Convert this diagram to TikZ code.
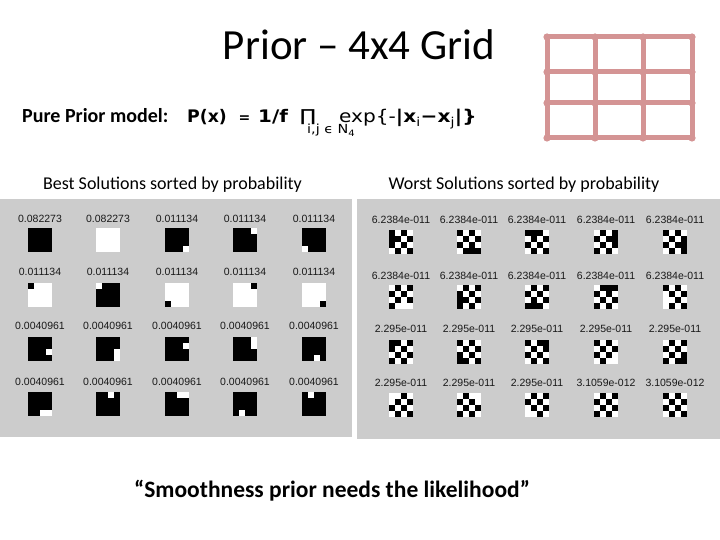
\documentclass[tikz,border=0pt]{standalone}
\usepackage{fontspec}
\setmainfont{Carlito}
\newfontfamily\dv{DejaVu Sans}
\newfontfamily\dvw{DejaVu Sans}[FakeStretch=1.15]
\newfontfamily\dvp{DejaVu Sans}[FakeStretch=1.3]
\newfontfamily\ar{Liberation Sans}
\definecolor{panel}{RGB}{204,204,204}
\definecolor{pinkgrid}{RGB}{212,148,148}
\newcommand\mypat[3]{%
  \def\mycx{#1}\def\mytop{#2}%
  \fill[white] (#1-12,#2) rectangle ++(24,24);
  \foreach \rowlist [count=\r from 0] in {#3} {\expandafter\dorow\rowlist\relax}%
}
\def\dorow#1#2#3#4\relax{%
  \foreach \v [count=\c from 0] in {#1,#2,#3,#4} {\ifnum\v=1 \fill[black] (\mycx-12+6*\c,\mytop+6*\r) rectangle ++(6,6);\fi}}
\begin{document}
\begin{tikzpicture}[x=1pt,y=-1pt,
  lbl/.style={font=\ar\fontsize{10.5}{11}\selectfont, inner sep=0, text=black!90},
  hdr/.style={font=\fontsize{18}{18}\selectfont, inner sep=0, anchor=base},
  gridline/.style={pinkgrid, line width=5, line cap=round}]
\useasboundingbox (0,0) rectangle (720,540);
\fill[white] (0,0) rectangle (720,540);

% title
\node[font=\fontsize{43}{43}\selectfont, inner sep=0, anchor=base] (title) at (359,60) {Prior – 4x4 Grid};

% pink grid
\foreach \gx in {547,595,643,692} {\draw[gridline] (\gx,37) -- (\gx,138);}
\foreach \gy in {37,72,103,138} {\draw[gridline] (547,\gy) -- (692,\gy);}
\foreach \gx in {547,595,643,692} {\foreach \gy in {37,72,103,138} {\fill[pinkgrid] (\gx,\gy) circle (3.6);}}

% model line
\node[font=\bfseries\fontsize{20}{20}\selectfont, inner sep=0, anchor=base west] (pp) at (22,123) {Pure Prior model:};
\node[font=\dv\bfseries\fontsize{17.3}{18}\selectfont, inner sep=0, anchor=base west] (px) at (187,123) {P(x)};
\node[font=\dv\bfseries\fontsize{14}{18}\selectfont, inner sep=0, anchor=base] (eq) at (244.5,123) {=};
\node[font=\dvw\bfseries\fontsize{17.3}{18}\selectfont, inner sep=0, anchor=base west] (onef) at (258,123) {1/f};
\node[font=\dvp\fontsize{16.5}{17}\selectfont, inner sep=0, anchor=south] (prod) at (308,124.5) {∏};
\node[font=\dvw\fontsize{12.5}{13}\selectfont, inner sep=0, anchor=base west] (sub) at (307,134) {i,j ϵ N\textsubscript{4}};
\node[font=\dvw\fontsize{17.5}{18}\selectfont, inner sep=0, anchor=base west] (expr) at (339,123) {exp\{-\textbf{|x}\textsubscript{i}\textbf{−x}\textsubscript{j}\textbf{|\}}};

% headers
\node[hdr] (best) at (172.5,190) {Best Solutions sorted by probability};
\node[hdr] (worst) at (524,190) {Worst Solutions sorted by probability};

% panels
\fill[panel] (0,199) rectangle (352,437);
\fill[panel] (357,199) rectangle (720,439);

% left labels
\foreach \lx/\ly/\t [count=\i] in {
 40/218.5/0.082273, 108/218.5/0.082273, 177/218.5/0.011134, 245/218.5/0.011134, 314/218.5/0.011134,
 40/272/0.011134, 108/272/0.011134, 177/272/0.011134, 245/272/0.011134, 314/272/0.011134,
 40/326/0.0040961, 108/326/0.0040961, 177/326/0.0040961, 245/326/0.0040961, 314/326/0.0040961,
 40/381.5/0.0040961, 108/381.5/0.0040961, 177/381.5/0.0040961, 245/381.5/0.0040961, 314/381.5/0.0040961}
 {\node[lbl] (bl\i) at (\lx,\ly) {\t};}

% right labels
\foreach \lx/\ly/\t [count=\i] in {
 401/220/6.2384e-011, 469/220/6.2384e-011, 537/220/6.2384e-011, 606/220/6.2384e-011, 675/220/6.2384e-011,
 401/276/6.2384e-011, 469/276/6.2384e-011, 537/276/6.2384e-011, 606/276/6.2384e-011, 675/276/6.2384e-011,
 401/329/2.295e-011, 469/329/2.295e-011, 537/329/2.295e-011, 606/329/2.295e-011, 675/329/2.295e-011,
 401/382.5/2.295e-011, 469/382.5/2.295e-011, 537/382.5/2.295e-011, 606/382.5/3.1059e-012, 675/382.5/3.1059e-012}
 {\node[lbl] (wl\i) at (\lx,\ly) {\t};}

% left patterns
\mypat{40}{228}{1111,1111,1111,1111}
\mypat{108}{228}{0000,0000,0000,0000}
\mypat{177}{228}{1111,1111,1111,1110}
\mypat{245}{228}{1110,1111,1111,1111}
\mypat{314}{228}{1111,1111,1111,0111}
\mypat{40}{283}{1000,0000,0000,0000}
\mypat{108}{283}{0111,1111,1111,1111}
\mypat{177}{283}{0000,0000,0000,1000}
\mypat{245}{283}{0001,0000,0000,0000}
\mypat{314}{283}{0000,0000,0000,0001}
\mypat{40}{337}{1111,1111,1110,1111}
\mypat{108}{337}{1111,1111,1110,1110}
\mypat{177}{337}{1111,1110,1111,1111}
\mypat{245}{337}{1110,1110,1111,1111}
\mypat{314}{337}{1111,1111,1111,1101}
\mypat{40}{392}{1111,1111,1111,1100}
\mypat{108}{392}{1101,1111,1111,1111}
\mypat{177}{392}{1100,1111,1111,1111}
\mypat{245}{392}{1111,1111,1111,1011}
\mypat{314}{392}{1011,1111,1111,1111}

% right patterns
\mypat{401}{230}{1010,1101,1010,0101}
\mypat{469}{230}{1010,0101,1010,0111}
\mypat{537}{230}{1110,0101,1010,0101}
\mypat{606}{230}{0101,1011,0101,1010}
\mypat{675}{230}{1010,0101,1011,0101}
\mypat{401}{285}{0101,1010,0101,1000}
\mypat{469}{285}{0101,1010,1101,1010}
\mypat{537}{285}{0101,1010,0101,1110}
\mypat{606}{285}{0111,1010,0101,1010}
\mypat{675}{285}{1010,0101,0010,0101}
\mypat{401}{340}{1101,1010,0101,1010}
\mypat{469}{340}{1010,0101,1010,1101}
\mypat{537}{340}{1011,0101,1010,0101}
\mypat{606}{340}{1010,0101,1010,0100}
\mypat{675}{340}{0101,1010,0101,1011}
\mypat{401}{393}{0010,0101,1010,0101}
\mypat{469}{393}{0100,1010,0101,1010}
\mypat{537}{393}{0101,1010,0101,0010}
\mypat{606}{393}{0101,1010,0101,1010}
\mypat{675}{393}{1010,0101,1010,0101}

% quote
\node[font=\bfseries\fontsize{23.5}{24}\selectfont, inner sep=0, anchor=base] (quote) at (332,497) {“Smoothness prior needs the likelihood”};
\end{tikzpicture}
\end{document}
